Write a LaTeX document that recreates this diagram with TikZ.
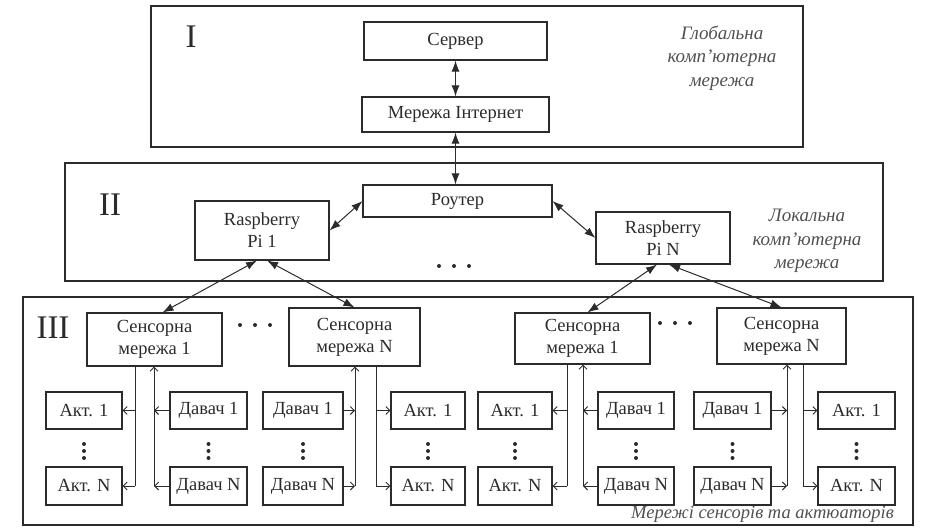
\documentclass[tikz,border=0pt]{standalone}
\usepackage{fontspec}
\setmainfont{Liberation Serif}
\usetikzlibrary{arrows.meta,calc}
\definecolor{ink}{HTML}{2B2B2B}
\definecolor{soft}{HTML}{505050}
\begin{document}
\begin{tikzpicture}[x=1pt,y=-1pt,
  every node/.style={text=ink},
  box/.style={draw=ink, line width=1.1pt, inner sep=0pt, align=center, font=\fontsize{18.5}{22}\selectfont},
  layer/.style={draw=ink, line width=1.3pt},
  big/.style={line width=1pt, draw=ink, {Latex[length=11pt,width=8pt]}-{Latex[length=11pt,width=8pt]}},
  small/.style={line width=0.9pt, draw=ink, -{Straight Barb[length=4pt,width=8pt]}},
  plain/.style={line width=0.9pt, draw=ink},
  lvl/.style={font=\fontsize{33}{33}\selectfont, inner sep=0pt},
  note/.style={font=\fontsize{19}{23.5}\selectfont\itshape, align=center, inner sep=0pt, text=soft},
  dotmark/.style={fill=ink, draw=none, circle, minimum size=4pt, inner sep=0pt}
]
\useasboundingbox (0,0) rectangle (926,528);

% layers
\draw[layer] (151,6) rectangle (803,147);
\draw[layer] (65,163) rectangle (883,281);
\draw[layer] (23,297) rectangle (913,525);

\node[lvl] (l1) at (191,37) {I};
\node[lvl] (l2) at (110,205) {II};
\node[lvl] (l3) at (53,328) {III};

\node[note] (n1) at (722,58) {Глобальна\\комп'ютерна\\мережа};
\node[note] (n2) at (807,241) {Локальна\\комп'ютерна\\мережа};
\node[note, anchor=base, font=\fontsize{18.5}{22}\selectfont\itshape] (n3) at (762.5,518.5) {Мережі сенсорів та актюаторів};

% layer I
\node[box, minimum width=183pt, minimum height=38pt] (serv) at (455.5,41) {Сервер};
\node[box, minimum width=187pt, minimum height=35pt] (inet) at (455.5,114.5) {Мережа Інтернет};

% layer II
\node[box, minimum width=189pt, minimum height=32pt] (rout) at (457.5,201) {Роутер};
\node[box, minimum width=134pt, minimum height=59pt] (pi1) at (262,230.5) {Raspberry\\Pi 1};
\node[box, minimum width=134pt, minimum height=52pt] (piN) at (663,238) {Raspberry\\Pi N};

% layer III
\node[box, minimum width=135pt, minimum height=53pt] (lsm1) at (154.5,339.5) {Сенсорна\\мережа 1};
\node[box, minimum width=131pt, minimum height=58pt] (lsmN) at (354.5,337) {Сенсорна\\мережа N};
\node[box, minimum width=135pt, minimum height=51pt] (rsm1) at (582.5,338.5) {Сенсорна\\мережа 1};
\node[box, minimum width=129pt, minimum height=56pt] (rsmN) at (781.5,336) {Сенсорна\\мережа N};

% group A
\node[box, minimum width=76pt, minimum height=37pt] (aA1) at (84,410.5) {Акт. 1};
\node[box, minimum width=76pt, minimum height=38pt] (aA2) at (84,486) {Акт. N};
\node[box, minimum width=77pt, minimum height=37pt] (dA1) at (208.5,410.5) {Давач 1};
\node[box, minimum width=77pt, minimum height=38pt] (dA2) at (208.5,486) {Давач N};
% group B
\node[box, minimum width=80pt, minimum height=37pt] (dB1) at (303,410.5) {Давач 1};
\node[box, minimum width=80pt, minimum height=38pt] (dB2) at (303,486) {Давач N};
\node[box, minimum width=74pt, minimum height=37pt] (aB1) at (428,410.5) {Акт. 1};
\node[box, minimum width=74pt, minimum height=38pt] (aB2) at (428,486) {Акт. N};
% group C
\node[box, minimum width=74pt, minimum height=37pt] (aC1) at (515,410.5) {Акт. 1};
\node[box, minimum width=74pt, minimum height=38pt] (aC2) at (515,486) {Акт. N};
\node[box, minimum width=76pt, minimum height=37pt] (dC1) at (636,410.5) {Давач 1};
\node[box, minimum width=76pt, minimum height=38pt] (dC2) at (636,486) {Давач N};
% group D
\node[box, minimum width=77pt, minimum height=37pt] (dD1) at (732.5,410.5) {Давач 1};
\node[box, minimum width=77pt, minimum height=38pt] (dD2) at (732.5,486) {Давач N};
\node[box, minimum width=77pt, minimum height=37pt] (aD1) at (856.5,410.5) {Акт. 1};
\node[box, minimum width=77pt, minimum height=38pt] (aD2) at (856.5,486) {Акт. N};

% big arrows
\draw[big] (serv.south) -- (inet.north);
\draw[big] (inet.south) -- (inet.south |- rout.north);
\draw[big] (rout.west) -- (pi1.east);
\draw[big] (rout.east) -- (piN.west);
\draw[big] ($(pi1.south)+(-5,0)$) -- ($(lsm1.north)+(8,0)$);
\draw[big] ($(pi1.south)+(5,0)$) -- (lsmN.north);
\draw[big] ($(piN.south)+(-6,0)$) -- ($(rsm1.north)+(5,0)$);
\draw[big] ($(piN.south)+(6,0)$) -- (rsmN.north);

% bus lines
\coordinate (xAa) at (135,0);
\coordinate (xAs) at (154,0);
\coordinate (xBs) at (355,0);
\coordinate (xBa) at (376,0);
\coordinate (xCa) at (567,0);
\coordinate (xCs) at (583,0);
\coordinate (xDs) at (787,0);
\coordinate (xDa) at (803,0);

% actuator buses
\draw[plain] (xAa |- lsm1.south) -- (xAa |- aA2.east);
\draw[small] (xAa |- aA1.east) -- (aA1.east);
\draw[small] (xAa |- aA2.east) -- (aA2.east);
\draw[plain] (xBa |- lsmN.south) -- (xBa |- aB2.west);
\draw[small] (xBa |- aB1.west) -- (aB1.west);
\draw[small] (xBa |- aB2.west) -- (aB2.west);
\draw[plain] (xCa |- rsm1.south) -- (xCa |- aC2.east);
\draw[small] (xCa |- aC1.east) -- (aC1.east);
\draw[small] (xCa |- aC2.east) -- (aC2.east);
\draw[plain] (xDa |- rsmN.south) -- (xDa |- aD2.west);
\draw[small] (xDa |- aD1.west) -- (aD1.west);
\draw[small] (xDa |- aD2.west) -- (aD2.west);

% sensor buses
\draw[small] (xAs |- dA2.west) -- (xAs |- lsm1.south);
\draw[small] (dA1.west) -- (xAs |- dA1.west);
\draw[small] (dA2.west) -- (xAs |- dA2.west);
\draw[small] (xBs |- dB2.east) -- (xBs |- lsmN.south);
\draw[small] (dB1.east) -- (xBs |- dB1.east);
\draw[small] (dB2.east) -- (xBs |- dB2.east);
\draw[small] (xCs |- dC2.west) -- (xCs |- rsm1.south);
\draw[small] (dC1.west) -- (xCs |- dC1.west);
\draw[small] (dC2.west) -- (xCs |- dC2.west);
\draw[small] (xDs |- dD2.east) -- (xDs |- rsmN.south);
\draw[small] (dD1.east) -- (xDs |- dD1.east);
\draw[small] (dD2.east) -- (xDs |- dD2.east);

% vertical dots
\foreach \t/\b in {aA1/aA2,dA1/dA2,dB1/dB2,aB1/aB2,aC1/aC2,dC1/dC2,dD1/dD2,aD1/aD2}{
  \path ($(\t.south)!0.5!(\b.north)+(0,3)$) coordinate (m);
  \foreach \dy in {-7,0,7} \node[dotmark] at ($(m)+(0,\dy)$) {};
}
% horizontal dots
\foreach \cx/\cy in {454/266, 255/325, 675/323}{
  \foreach \dx in {-15,0,15} \node[dotmark] at (\cx+\dx,\cy) {};
}
\end{tikzpicture}
\end{document}
